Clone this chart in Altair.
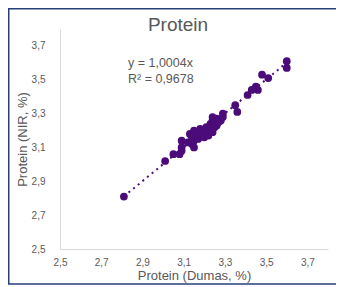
import altair as alt
import pandas as pd

# Data
dumas = [2.81, 3.01, 3.05, 3.08, 3.09, 3.09, 3.09, 3.12, 3.13, 3.14, 3.14, 3.15, 3.15, 3.15,
         3.16, 3.17, 3.17, 3.18, 3.19, 3.20, 3.20, 3.21, 3.21, 3.22, 3.22, 3.23, 3.23, 3.24,
         3.24, 3.24, 3.25, 3.25, 3.26, 3.26, 3.27, 3.28, 3.29, 3.29, 3.35, 3.36, 3.41, 3.43,
         3.45, 3.46, 3.48, 3.51, 3.60, 3.60]
nir = [2.81, 3.02, 3.06, 3.06, 3.08, 3.10, 3.14, 3.13, 3.18, 3.12, 3.16, 3.10, 3.14, 3.20,
       3.17, 3.15, 3.19, 3.21, 3.18, 3.16, 3.20, 3.18, 3.22, 3.17, 3.20, 3.24, 3.21, 3.19,
       3.28, 3.26, 3.22, 3.25, 3.27, 3.23, 3.25, 3.26, 3.30, 3.28, 3.35, 3.31, 3.41, 3.44,
       3.46, 3.44, 3.53, 3.51, 3.61, 3.57]
slope = 1.0004
trend_x = [2.81, 3.60]
ticks = [2.5, 2.7, 2.9, 3.1, 3.3, 3.5, 3.7]
title_text = "Protein"
eq_line1 = "y = 1,0004x"
eq_line2 = "R² = 0,9678"

pts = pd.DataFrame({"x": dumas, "y": nir})
trend = pd.DataFrame({"x": trend_x, "y": [slope * v for v in trend_x]})

FONT = "Liberation Sans"
GREY = "#595959"
PURPLE = "#4b0c7a"
lab = "replace(format(datum.value, '.1f'), '.', ',')"

xs = alt.Scale(domain=[2.5, 3.8], nice=False, zero=False)
ys = alt.Scale(domain=[2.5, 3.8], nice=False, zero=False)

xaxis = alt.Axis(values=ticks, tickCount=10, labelExpr=lab, labelPadding=8,
                 title="Protein (Dumas, %)", titleX=134, titleY=26, titleBaseline="middle")
yaxis = alt.Axis(values=ticks, tickCount=10, labelExpr=lab, labelPadding=15,
                 title="Protein (NIR, %)", titleX=-38, titleY=110, titleBaseline="middle")

points = alt.Chart(pts).mark_circle(color=PURPLE, opacity=1, size=60).encode(
    x=alt.X("x:Q", scale=xs, axis=xaxis),
    y=alt.Y("y:Q", scale=ys, axis=yaxis),
)
line = alt.Chart(trend).mark_line(color=PURPLE, strokeWidth=2, strokeDash=[2, 4]).encode(
    x=alt.X("x:Q", scale=xs),
    y=alt.Y("y:Q", scale=ys),
)


def label(txt, px, py, size):
    return alt.Chart(pd.DataFrame({"t": [txt]})).mark_text(
        font=FONT, fontSize=size, color=GREY, align="left" if size < 15 else "center",
        baseline="middle"
    ).encode(x=alt.value(px), y=alt.value(py), text="t:N")


title = label(title_text, 118, -4, 19)
eq1 = label(eq_line1, 68, 34, 12.5)
eq2 = label(eq_line2, 68, 50, 12.5)

border = alt.Chart(pd.DataFrame({"a": [0]})).mark_rect(
    fill="transparent", stroke="#27407a", strokeWidth=1.5
).encode(x=alt.value(-51.25), x2=alt.value(300), y=alt.value(-20.25), y2=alt.value(255))

chart = alt.layer(border, line, points, title, eq1, eq2).properties(
    width=268, height=220,
    padding={"left": 52, "top": 21, "right": 8, "bottom": 38},
    autosize=alt.AutoSizeParams(type="none"),
).configure_view(strokeWidth=0).configure_axis(
    grid=False, ticks=False, tickSize=0, labelOverlap=False, labelFlush=False,
    domainColor="#d9d9d9", labelColor=GREY, labelFont=FONT, labelFontSize=10,
    titleFont=FONT, titleFontSize=13, titleFontWeight="normal", titleColor=GREY,
)

chart.save("out.html", embed_options={"renderer": "svg", "actions": False})
